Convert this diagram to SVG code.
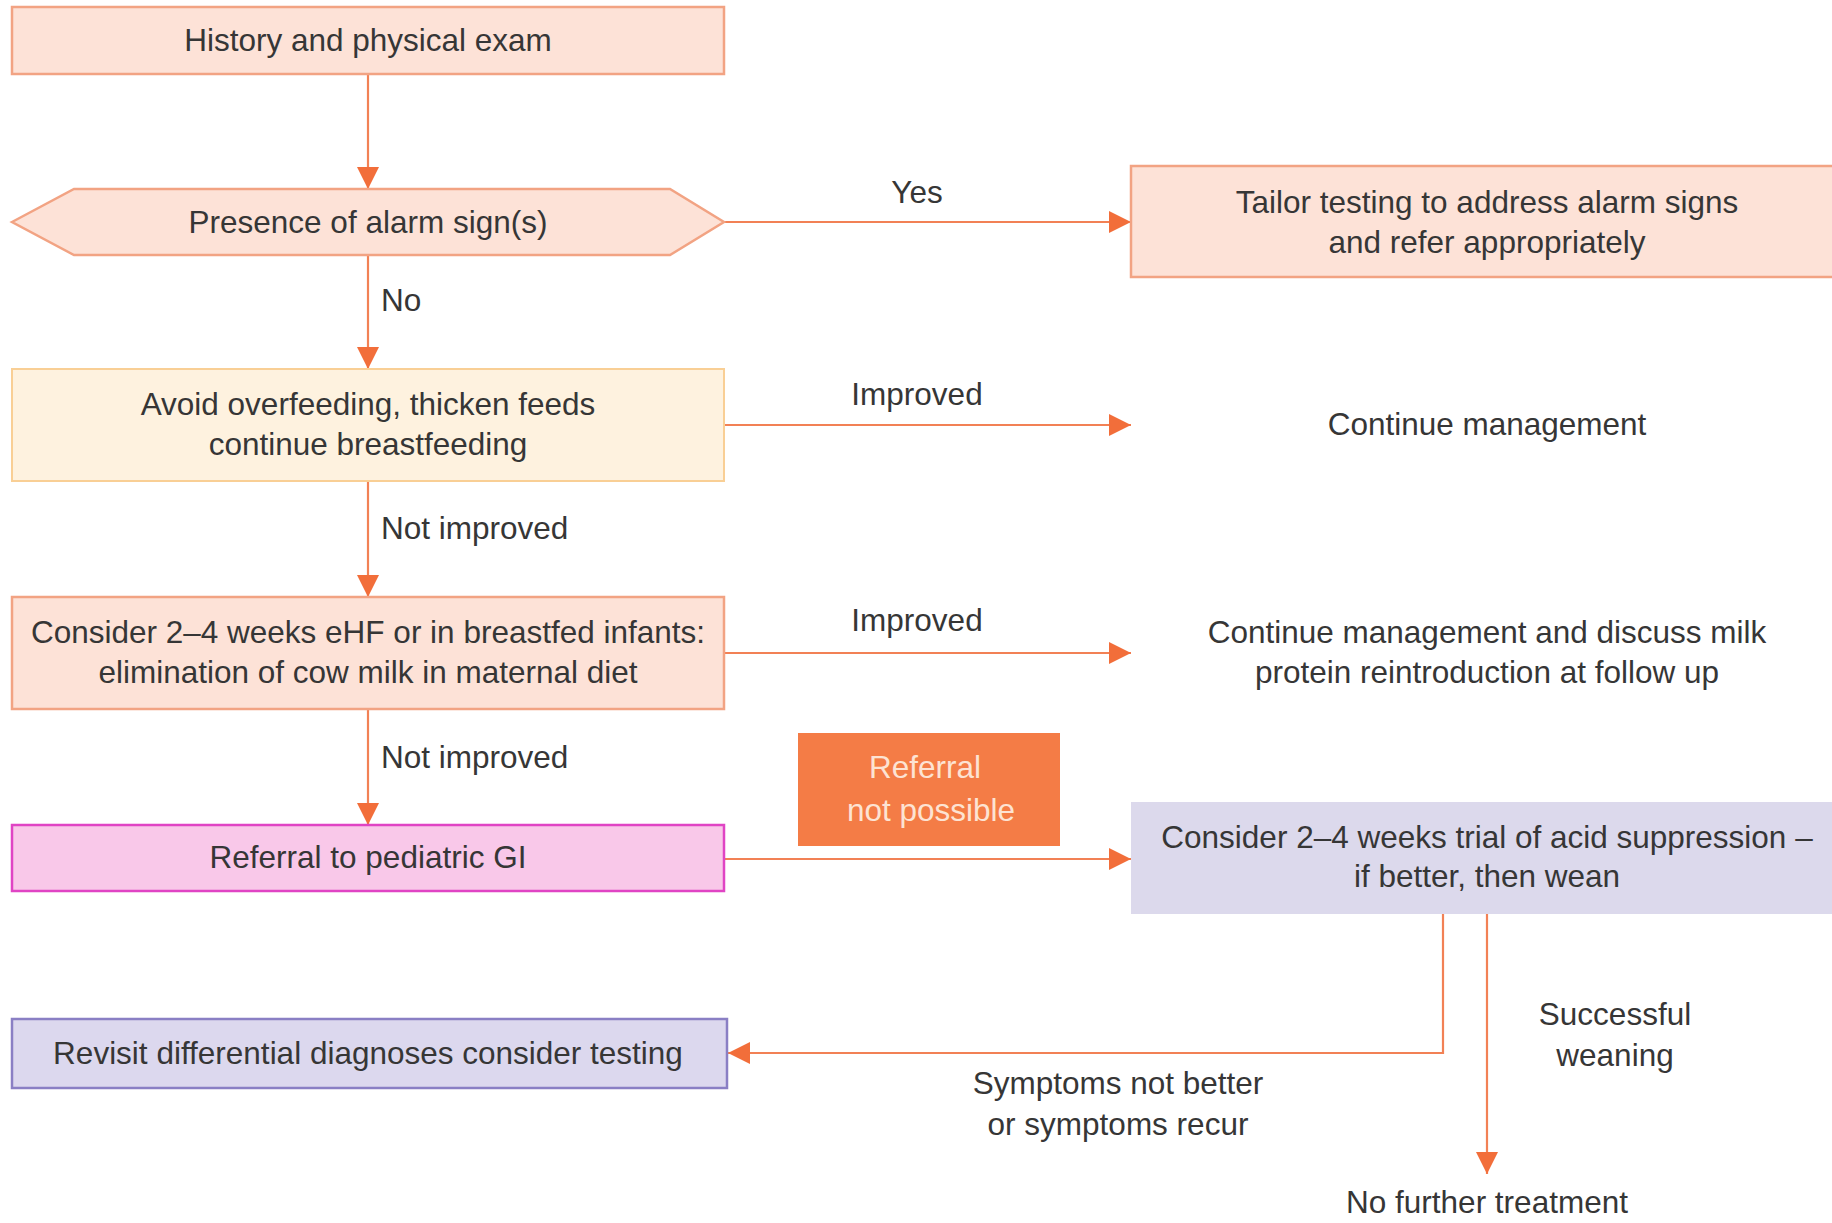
<svg xmlns="http://www.w3.org/2000/svg" width="1832" height="1223" viewBox="0 0 1832 1223">
<style>
text{font-family:"Liberation Sans",Arial,sans-serif;font-size:31.5px;fill:#363636;text-anchor:middle;dominant-baseline:central}
.lbl{text-anchor:start}
.salmon{fill:#fde2d7;stroke:#f2a383;stroke-width:2.5}
.cream{fill:#fef2df;stroke:#f9cf95;stroke-width:2}
.pink{fill:#f9c8e9;stroke:#e044c4;stroke-width:2.5}
.lav{fill:#dcd9ec;stroke:none}
.lav2{fill:#dcd8ee;stroke:#8a7fc4;stroke-width:2.5}
.orange{fill:#f47c46}
.wtxt{fill:#fde3d3}
.conn{fill:none;stroke:#f28155;stroke-width:2.2}
</style>
<defs>
<marker id="ah" viewBox="0 0 10 10" refX="10" refY="5" markerWidth="22" markerHeight="22" markerUnits="userSpaceOnUse" orient="auto">
<path d="M0,0 L10,5 L0,10 z" fill="#f26e3a"/>
</marker>
</defs>
<rect width="1832" height="1223" fill="#ffffff"/>

<g id="connectors">
<line class="conn" x1="368" y1="74" x2="368" y2="189" marker-end="url(#ah)"/>
<line class="conn" x1="724" y1="222" x2="1131" y2="222" marker-end="url(#ah)"/>
<line class="conn" x1="368" y1="255" x2="368" y2="369" marker-end="url(#ah)"/>
<line class="conn" x1="724" y1="425" x2="1131" y2="425" marker-end="url(#ah)"/>
<line class="conn" x1="368" y1="481" x2="368" y2="597" marker-end="url(#ah)"/>
<line class="conn" x1="724" y1="653" x2="1131" y2="653" marker-end="url(#ah)"/>
<line class="conn" x1="368" y1="709" x2="368" y2="825" marker-end="url(#ah)"/>
<line class="conn" x1="724" y1="859" x2="1131" y2="859" marker-end="url(#ah)"/>
<polyline class="conn" points="1443,914 1443,1053 728,1053" marker-end="url(#ah)"/>
<line class="conn" x1="1487" y1="914" x2="1487" y2="1174" marker-end="url(#ah)"/>
<text x="917" y="192">Yes</text>
<text class="lbl" x="381" y="300">No</text>
<text x="917" y="394">Improved</text>
<text class="lbl" x="381" y="528">Not improved</text>
<text x="917" y="620">Improved</text>
<text class="lbl" x="381" y="757">Not improved</text>
<text x="1615" y="1014">Successful</text>
<text x="1615" y="1055">weaning</text>
<text x="1118" y="1083">Symptoms not better</text>
<text x="1118" y="1124">or symptoms recur</text>
</g>

<g id="history">
<rect class="salmon" x="12" y="7" width="712" height="67"/>
<text x="368" y="40">History and physical exam</text>
</g>

<g id="alarm">
<polygon class="salmon" points="12,222 74,189 670,189 724,222 670,255 74,255"/>
<text x="368" y="222">Presence of alarm sign(s)</text>
</g>

<g id="tailor">
<rect class="salmon" x="1131" y="166" width="710" height="111"/>
<text x="1487" y="202">Tailor testing to address alarm signs</text>
<text x="1487" y="242">and refer appropriately</text>
</g>

<g id="avoid">
<rect class="cream" x="12" y="369" width="712" height="112"/>
<text x="368" y="404">Avoid overfeeding, thicken feeds</text>
<text x="368" y="444">continue breastfeeding</text>
</g>

<g id="continue1">
<text x="1487" y="424">Continue management</text>
</g>

<g id="consider">
<rect class="salmon" x="12" y="597" width="712" height="112"/>
<text x="368" y="632">Consider 2–4 weeks eHF or in breastfed infants:</text>
<text x="368" y="672">elimination of cow milk in maternal diet</text>
</g>

<g id="continue2">
<text x="1487" y="632">Continue management and discuss milk</text>
<text x="1487" y="672">protein reintroduction at follow up</text>
</g>

<g id="referral">
<rect class="pink" x="12" y="825" width="712" height="66"/>
<text x="368" y="857">Referral to pediatric GI</text>
</g>

<g id="notpossible">
<rect class="orange" x="798" y="733" width="262" height="113"/>
<text class="wtxt" x="925" y="767">Referral</text>
<text class="wtxt" x="931" y="810">not possible</text>
</g>

<g id="acid">
<rect class="lav" x="1131" y="802" width="710" height="112"/>
<text x="1487" y="837">Consider 2–4 weeks trial of acid suppression –</text>
<text x="1487" y="876">if better, then wean</text>
</g>

<g id="revisit">
<rect class="lav2" x="12" y="1019" width="715" height="69"/>
<text x="368" y="1053">Revisit differential diagnoses consider testing</text>
</g>

<g id="nofurther">
<text x="1487" y="1202">No further treatment</text>
</g>
</svg>
